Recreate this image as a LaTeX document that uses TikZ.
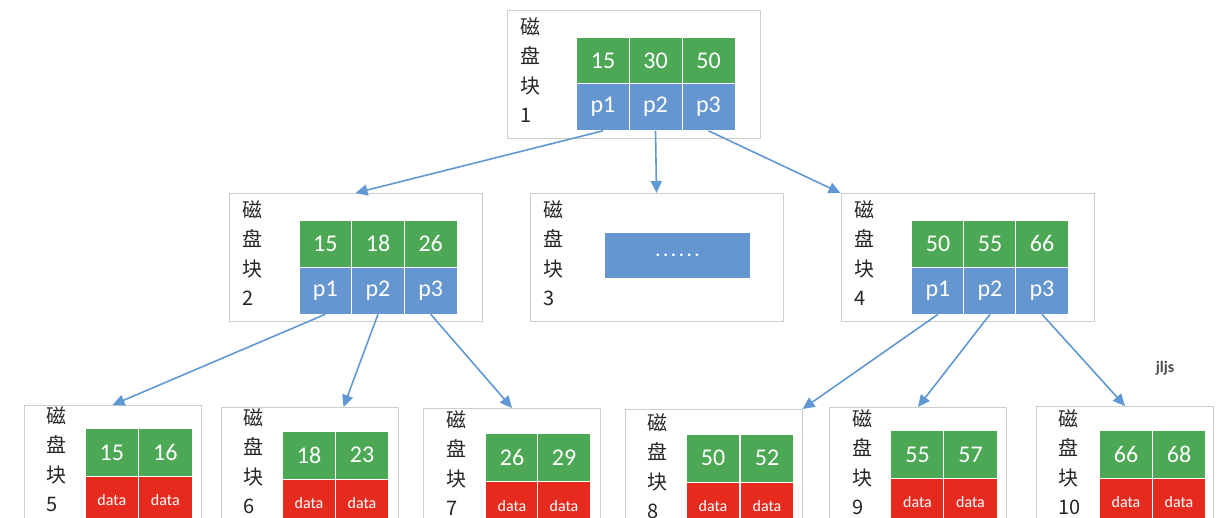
\documentclass[tikz,border=0pt]{standalone}
\usepackage{fontspec}
\setmainfont{Carlito}
\newfontfamily\cjk{Noto Sans CJK SC}
\usetikzlibrary{arrows.meta,calc}
\definecolor{keygreen}{RGB}{76,168,84}
\definecolor{ptrblue}{RGB}{102,150,208}
\definecolor{datared}{RGB}{230,42,30}
\definecolor{boxgray}{RGB}{205,205,205}
\definecolor{arrblue}{RGB}{96,152,212}

\begin{document}
\begin{tikzpicture}[x=1pt, y=-1pt,
  blk/.style  = {draw=boxgray, line width=1pt, fill=white, minimum width=253pt, minimum height=128pt},
  leaf/.style = {blk, minimum width=177pt, minimum height=150pt, anchor=north},
  cell/.style = {draw=white, line width=0.6pt, text=white, minimum width=52.7pt, minimum height=47pt,
                 inner sep=0pt, font=\fontsize{24}{24}\selectfont},
  key/.style  = {cell, fill=keygreen},
  ptr/.style  = {cell, fill=ptrblue},
  lkey/.style = {key, minimum width=53.5pt, minimum height=48pt},
  dat/.style  = {cell, fill=datared, minimum width=53.5pt, minimum height=48pt, font=\fontsize{16}{16}\selectfont},
  lbl/.style  = {anchor=north west, align=left, inner sep=0pt, text=black!85, font=\cjk\fontsize{20}{29.5}\selectfont},
  arr/.style  = {draw=arrblue, line width=1.6pt, -{Triangle[length=12pt, width=11pt]}},
]
\useasboundingbox (0,0) rectangle (1222,518);
% root block
\node[blk] (b1) at (634,75) {};
\node[lbl] (l1) at (520,17) {磁\\盘\\块\\1};
\node[key] (b1k1) at (603,60.5) {15}; \node[key] (b1k2) at (655.5,60.5) {30}; \node[key] (b1k3) at (708.5,60.5) {50};
\node[ptr] (b1p1) at (603,107) {p1}; \node[ptr] (b1p2) at (655.5,107) {p2}; \node[ptr] (b1p3) at (708.5,107) {p3};
% second level
\node[blk] (b2) at (355.5,257.5) {};
\node[lbl] (l2) at (242,200) {磁\\盘\\块\\2};
\node[key] (b2k1) at (325.3,243.5) {15}; \node[key] (b2k2) at (378,243.5) {18}; \node[key] (b2k3) at (430.7,243.5) {26};
\node[ptr] (b2p1) at (325.3,290.5) {p1}; \node[ptr] (b2p2) at (378,290.5) {p2}; \node[ptr] (b2p3) at (430.7,290.5) {p3};
\node[blk] (b3) at (656.5,257.5) {};
\node[lbl] (l3) at (543,200) {磁\\盘\\块\\3};
\node[fill=ptrblue, minimum width=145pt, minimum height=45pt, text=white,
      font=\bfseries\fontsize{18}{18}\selectfont] (b3m) at (677.5,255.5) {.\,.\,.\,.\,.\,.};
\node[blk] (b4) at (967.5,257.5) {};
\node[lbl] (l4) at (854,200) {磁\\盘\\块\\4};
\node[key] (b4k1) at (938,243.5) {50}; \node[key] (b4k2) at (990,243.5) {55}; \node[key] (b4k3) at (1042,243.5) {66};
\node[ptr] (b4p1) at (938,290.5) {p1}; \node[ptr] (b4p2) at (990,290.5) {p2}; \node[ptr] (b4p3) at (1042,290.5) {p3};
% leaves
\node[leaf] (b5) at (112.5,405) {};
\node[lbl] (l5) at (46,406) {磁\\盘\\块\\5};
\node[lkey] (b5k1) at (111.8,452.5) {15}; \node[lkey] (b5k2) at (165.3,452.5) {16};
\node[dat] (b5d1) at (111.8,500.5) {data}; \node[dat] (b5d2) at (165.3,500.5) {data};
\node[leaf] (b6) at (309.5,407) {};
\node[lbl] (l6) at (243,408) {磁\\盘\\块\\6};
\node[lkey] (b6k1) at (309,455) {18}; \node[lkey] (b6k2) at (362,455) {23};
\node[dat] (b6d1) at (309,503) {data}; \node[dat] (b6d2) at (362,503) {data};
\node[leaf] (b7) at (512,408) {};
\node[lbl] (l7) at (446,410) {磁\\盘\\块\\7};
\node[lkey] (b7k1) at (512,457.5) {26}; \node[lkey] (b7k2) at (564,457.5) {29};
\node[dat] (b7d1) at (512,505.5) {data}; \node[dat] (b7d2) at (564,505.5) {data};
\node[leaf] (b8) at (713.5,409) {};
\node[lbl] (l8) at (647,413) {磁\\盘\\块\\8};
\node[lkey] (b8k1) at (713,458) {50}; \node[lkey] (b8k2) at (767,458) {52};
\node[dat] (b8d1) at (713,506) {data}; \node[dat] (b8d2) at (767,506) {data};
\node[leaf] (b9) at (918,407) {};
\node[lbl] (l9) at (852,409) {磁\\盘\\块\\9};
\node[lkey] (b9k1) at (917.5,454.5) {55}; \node[lkey] (b9k2) at (970.5,454.5) {57};
\node[dat] (b9d1) at (917.5,502.5) {data}; \node[dat] (b9d2) at (970.5,502.5) {data};
\node[leaf] (b10) at (1125,406) {};
\node[lbl] (l10) at (1058,409) {磁\\盘\\块\\10};
\node[lkey] (b10k1) at (1126,454.5) {66}; \node[lkey] (b10k2) at (1179,454.5) {68};
\node[dat] (b10d1) at (1126,502.5) {data}; \node[dat] (b10d2) at (1179,502.5) {data};
\node[font=\bfseries\fontsize{16}{16}\selectfont, text=black!70] (mark) at (1165,368) {jljs};
% pointers
\draw[arr] (b1p1.south) -- (b2.north); \draw[arr] (b1p2.south) -- (b3.north);
\draw[arr] (b1p3.south) -- (b4.north west);
\draw[arr] (b2p1.south) -- (b5.north); \draw[arr] (b2p2.south) -- ($(b6.north)+(34,0)$);
\draw[arr] (b2p3.south) -- (b7.north);
\draw[arr] (b4p1.south) -- (b8.north east); \draw[arr] (b4p2.south) -- (b9.north);
\draw[arr] (b4p3.south) -- (b10.north);
\end{tikzpicture}
\end{document}
